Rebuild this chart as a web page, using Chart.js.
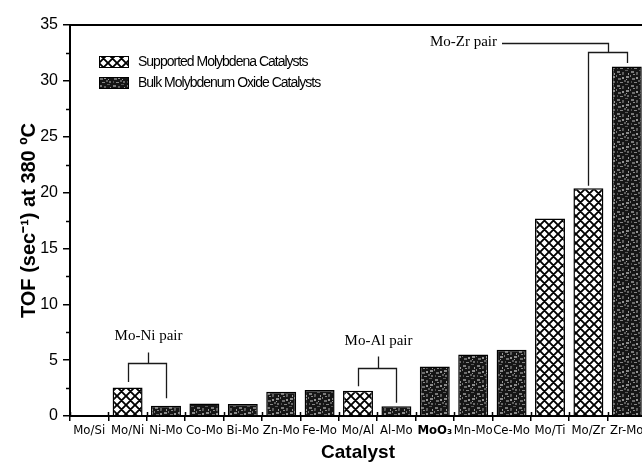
<!DOCTYPE html>
<html>
<head>
<meta charset="utf-8">
<script src="https://cdn.jsdelivr.net/npm/chart.js@4.4.1/dist/chart.umd.min.js"></script>
<style>
  html, body { margin: 0; padding: 0; background: #fff; overflow: hidden; }
  #wrap { width: 660px; height: 464px; }
</style>
</head>
<body>
<div id="wrap"><canvas id="c" width="660" height="464"></canvas></div>
<script>
// Turnover frequency of molybdenum catalysts at 380 °C
const catalysts = ['Mo/Si', 'Mo/Ni', 'Ni-Mo', 'Co-Mo', 'Bi-Mo', 'Zn-Mo', 'Fe-Mo', 'Mo/Al', 'Al-Mo',
                   'MoO₃', 'Mn-Mo', 'Ce-Mo', 'Mo/Ti', 'Mo/Zr', 'Zr-Mo'];
const tof = [0, 2.56, 0.92, 1.13, 1.07, 2.17, 2.32, 2.25, 0.87, 4.44, 5.51, 5.93, 17.67, 20.38, 31.28];
const catalystType = ['supported', 'supported', 'bulk', 'bulk', 'bulk', 'bulk', 'bulk', 'supported', 'bulk',
                      'bulk', 'bulk', 'bulk', 'supported', 'supported', 'bulk'];
const seriesNames = ['Supported Molybdena Catalysts', 'Bulk Molybdenum Oxide Catalysts'];
const yMajorTicks = [0, 5, 10, 15, 20, 25, 30, 35];
const pairLabels = ['Mo-Ni pair', 'Mo-Al pair', 'Mo-Zr pair'];
const pairMembers = [[1, 2], [7, 8], [13, 14]];

const SANS = '"Liberation Sans", Arial, sans-serif';
const NARROW = '"Liberation Sans Narrow", "DejaVu Sans Condensed", "Liberation Sans", Arial, sans-serif';
const SERIF = '"Liberation Serif", "Times New Roman", serif';

// Cross-hatched fill for supported catalysts
function hatchPattern() {
  const s = 9, c = document.createElement('canvas');
  c.width = s; c.height = s;
  const g = c.getContext('2d');
  g.fillStyle = '#fff'; g.fillRect(0, 0, s, s);
  g.strokeStyle = '#000'; g.lineWidth = 1.9;
  g.beginPath();
  for (let k = -1; k <= 1; k++) {
    g.moveTo(k * s, 0); g.lineTo(k * s + s, s);
    g.moveTo(k * s + s, 0); g.lineTo(k * s, s);
  }
  g.stroke();
  return g.createPattern(c, 'repeat');
}

// Dark mottled fill for bulk oxides
function mottlePattern() {
  const s = 14, c = document.createElement('canvas');
  c.width = s; c.height = s;
  const g = c.getContext('2d');
  g.fillStyle = '#151515'; g.fillRect(0, 0, s, s);
  const specks = [[1,1,3,2,'#7a7a7a'],[6,2,2,3,'#5e5e5e'],[10,6,3,2,'#8a8a8a'],[2,8,3,2,'#6c6c6c'],
                  [6,7,2,2,'#959595'],[9,0,3,1,'#5a5a5a'],[0,5,1,2,'#777'],[11,11,2,2,'#6a6a6a'],
                  [4,12,3,1,'#858585'],[8,10,2,2,'#5c5c5c'],[12,3,1,2,'#999'],[3,4,2,1,'#888'],
                  [7,4,1,1,'#4a4a4a'],[1,11,1,2,'#505050'],[10,9,1,1,'#a0a0a0']];
  specks.forEach(([x, y, w, h, col]) => { g.fillStyle = col; g.fillRect(x, y, w, h); });
  return g.createPattern(c, 'repeat');
}

const fills = { supported: hatchPattern(), bulk: mottlePattern() };

// Pair brackets: level of the bar, stem top and label centre in axis units; leg gaps in px
const pairGeometry = [
  { level: 4.71, stemTop: 5.72, labelAt: 7.2, gaps: [5.5, 7.5] },
  { level: 4.26, stemTop: 5.36, labelAt: 6.67, gaps: [4.5, 3.5] },
  { level: 32.57, stemTop: 33.43, labelAt: 33.43, gaps: [2.5, 3.5], side: true }
];

const decorations = {
  id: 'decorations',
  afterDraw(chart) {
    const { ctx, chartArea: a, scales: { x, y } } = chart;
    ctx.save();
    // top frame line
    ctx.strokeStyle = '#000'; ctx.lineWidth = 2;
    ctx.beginPath(); ctx.moveTo(a.left - 1, a.top); ctx.lineTo(a.right, a.top); ctx.stroke();

    // minor y ticks
    ctx.lineWidth = 1.5;
    ctx.beginPath();
    for (let v = 2.5; v < 35; v += 5) {
      const py = Math.round(y.getPixelForValue(v)) + 0.5;
      ctx.moveTo(a.left - 4, py); ctx.lineTo(a.left, py);
    }
    // inner part of x ticks crossing the baseline
    for (let i = 0; i <= catalysts.length; i++) {
      const px = Math.round(x.getPixelForValue(i - 0.5)) + 0.5;
      ctx.moveTo(px, a.bottom - 4); ctx.lineTo(px, a.bottom);
    }
    ctx.stroke();

    // legend
    const legendRows = [['supported', 56], ['bulk', 77]];
    legendRows.forEach(([type, top], i) => {
      ctx.fillStyle = fills[type];
      ctx.fillRect(99, top, 30, 12);
      ctx.strokeStyle = '#000'; ctx.lineWidth = 1;
      ctx.strokeRect(99.5, top + 0.5, 29, 11);
      ctx.fillStyle = '#000';
      ctx.font = '14px ' + SANS;
      ctx.letterSpacing = '-1px';
      ctx.textAlign = 'left'; ctx.textBaseline = 'middle';
      ctx.fillText(seriesNames[i], 138, top + 6.5);
      ctx.letterSpacing = '0px';
    });

    // pair brackets
    ctx.strokeStyle = '#1a1a1a'; ctx.lineWidth = 1.3;
    ctx.font = '15px ' + SERIF; ctx.fillStyle = '#000';
    pairMembers.forEach(([ia, ib], k) => {
      const geo = pairGeometry[k];
      const xa = Math.round(x.getPixelForValue(ia)) + 0.5;
      const xb = Math.round(x.getPixelForValue(ib)) + 0.5;
      const xm = Math.round((xa + xb) / 2) + 0.5;
      const yl = Math.round(y.getPixelForValue(geo.level)) + 0.5;
      const ys = Math.round(y.getPixelForValue(geo.stemTop)) + 0.5;
      ctx.beginPath();
      ctx.moveTo(xa, y.getPixelForValue(tof[ia]) - geo.gaps[0]); ctx.lineTo(xa, yl);
      ctx.lineTo(xb, yl); ctx.lineTo(xb, y.getPixelForValue(tof[ib]) - geo.gaps[1]);
      ctx.moveTo(xm, yl); ctx.lineTo(xm, ys);
      if (geo.side) ctx.lineTo(502, ys);
      ctx.stroke();
      ctx.textBaseline = 'middle';
      if (geo.side) {
        ctx.textAlign = 'right';
        ctx.fillText(pairLabels[k], 497, y.getPixelForValue(geo.labelAt));
      } else {
        ctx.textAlign = 'center';
        ctx.fillText(pairLabels[k], xm, y.getPixelForValue(geo.labelAt));
      }
    });
    ctx.restore();
  }
};

new Chart(document.getElementById('c'), {
  type: 'bar',
  data: {
    labels: catalysts,
    datasets: [{
      data: tof,
      backgroundColor: catalystType.map(t => fills[t]),
      borderColor: '#000',
      borderWidth: 1.5,
      barPercentage: 0.78,
      categoryPercentage: 1
    }]
  },
  options: {
    responsive: false,
    devicePixelRatio: 1,
    animation: false,
    layout: { padding: { top: 25, right: 14, left: 0, bottom: 0 } },
    plugins: { legend: { display: false }, tooltip: { enabled: false } },
    scales: {
      x: {
        offset: true,
        grid: { display: true, drawOnChartArea: false, offset: true, drawTicks: true, tickLength: 5,
                color: '#000', lineWidth: 1.5 },
        border: { display: true, color: '#000', width: 2 },
        ticks: {
          color: '#000', padding: 2, maxRotation: 0, autoSkip: false,
          font: ctx => ({ family: NARROW, size: 13, weight: ctx.index === 9 ? 'bold' : 'normal' })
        },
        title: { display: true, text: 'Catalyst', color: '#000',
                 font: { family: SANS, size: 19, weight: 'bold' }, padding: { top: 0, bottom: 0 } },
        afterFit: s => { s.height = 48; }
      },
      y: {
        min: 0, max: 35,
        afterBuildTicks: s => { s.ticks = yMajorTicks.map(v => ({ value: v })); },
        grid: { display: true, drawOnChartArea: false, drawTicks: true, tickLength: 7,
                color: '#000', lineWidth: 1.5 },
        border: { display: true, color: '#000', width: 2 },
        ticks: { color: '#000', padding: 5, font: { family: SANS, size: 16 } },
        title: { display: true, text: 'TOF (sec⁻¹) at 380 ºC', color: '#000',
                 font: { family: SANS, size: 20, weight: 'bold' }, padding: { top: 17, bottom: 0 } },
        afterFit: s => { s.width = 70; }
      }
    }
  },
  plugins: [decorations]
});
</script>
</body>
</html>
